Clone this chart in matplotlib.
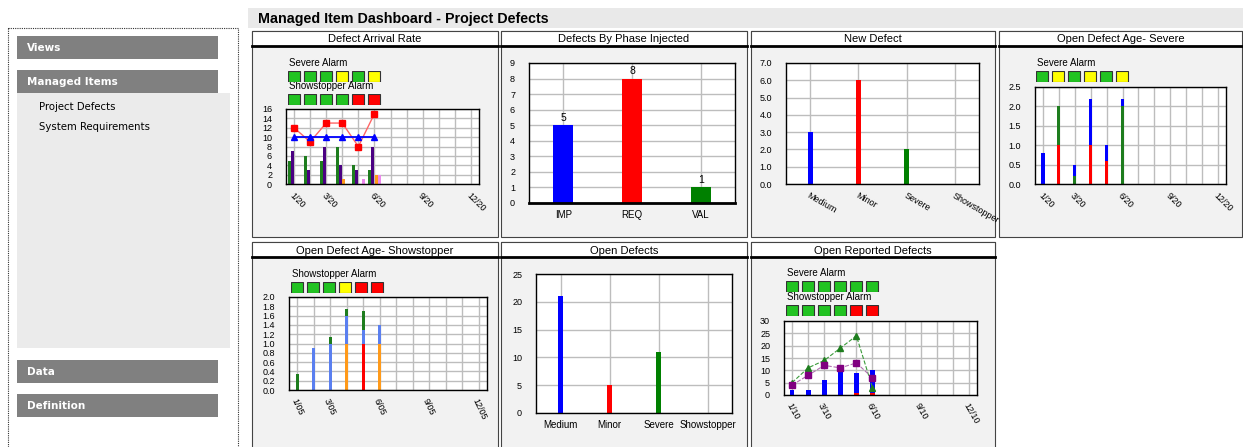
import numpy as np
import matplotlib.pyplot as plt
from matplotlib.patches import Rectangle

W, H = 1243, 447
plt.rcParams['font.family'] = ['Liberation Sans', 'DejaVu Sans']

# ---- data ----
months = np.arange(6) + 0.5
month_grid = np.arange(12) + 0.5
label_idx = [0, 2, 5, 8, 11]
dates_a = ['1/20', '3/20', '6/20', '9/20', '12/20']
dates_b = ['1/05', '3/05', '6/05', '9/05', '12/05']
dates_c = ['1/10', '3/10', '6/10', '9/10', '12/10']

# Defect Arrival Rate
arr_green = [5, 6, 5, 8, 4, 3]
arr_indigo = [7, 3, 8, 4, 3, 8]
arr_orange = [0, 0, 0, 1, 0, 2]
arr_violet = [0, 0, 0, 0, 1, 2]
arr_red_line = [12, 9, 13, 13, 8, 15]
arr_blue_line = [10, 10, 10, 10, 10, 10]
arr_sev_alarm = ['G', 'G', 'G', 'Y', 'G', 'Y']
arr_ss_alarm = ['G', 'G', 'G', 'G', 'R', 'R']

# Defects By Phase Injected
phase_cats = ['IMP', 'REQ', 'VAL']
phase_vals = [5, 8, 1]

# New Defect / Open Defects
sev_cats = ['Medium', 'Minor', 'Severe', 'Showstopper']
new_vals = [3, 6, 2, 0]
open_vals = [21, 5, 11, 0]

# Open Defect Age- Severe
sev_age_red = [0, 1, 0, 1, 0.6, 0]
sev_age_green = [0, 1, 0.2, 0, 0, 2]
sev_age_blue = [0.8, 0, 0.3, 1.2, 0.4, 0.2]
age_sev_alarm = ['G', 'Y', 'G', 'Y', 'G', 'Y']

# Open Defect Age- Showstopper
ss_age_orange = [0, 0, 0, 1, 0, 1]
ss_age_red = [0, 0, 0, 0, 1, 0]
ss_age_blue = [0, 0.9, 1.0, 0.6, 0.3, 0.4]
ss_age_green = [0.35, 0, 0.15, 0.15, 0.4, 0]
age_ss_alarm = ['G', 'G', 'G', 'Y', 'R', 'R']

# Open Reported Defects
rep_red = [0, 0, 0, 0, 1, 1]
rep_blue = [2, 2, 6, 10, 8, 9]
rep_green_line = [5, 11, 14, 19, 24, 3]
rep_purple_line = [4, 8, 12, 11, 13, 7]
rep_sev_alarm = ['G', 'G', 'G', 'G', 'G', 'G']
rep_ss_alarm = ['G', 'G', 'G', 'G', 'R', 'R']

alarm_col = {'G': '#22c322', 'Y': '#ffff00', 'R': '#ff0000'}

fig = plt.figure(figsize=(W / 100, H / 100), dpi=100)
fig.patch.set_facecolor('white')


def px_ax(x0, y0, x1, y1):
    return fig.add_axes([x0 / W, 1 - y1 / H, (x1 - x0) / W, (y1 - y0) / H])


# background layer (pixel coordinates)
bg = fig.add_axes([0, 0, 1, 1])
bg.set_xlim(0, W)
bg.set_ylim(H, 0)
bg.axis('off')

# sidebar
bg.add_patch(Rectangle((8, 28), 230, 425, facecolor='white', edgecolor='#333333', lw=0.8, ls=(0, (1, 1))))
bg.add_patch(Rectangle((17, 93), 213, 255, facecolor='#ebebeb', edgecolor='none'))
for ytop, name in [(36, 'Views'), (70, 'Managed Items'), (360, 'Data'), (394, 'Definition')]:
    bg.add_patch(Rectangle((17, ytop), 201, 23, facecolor='#808080', edgecolor='none'))
    bg.text(27, ytop + 12, name, color='white', fontsize=7.5, fontweight='bold',
            family='DejaVu Sans', va='center', ha='left')
bg.text(39, 107, 'Project Defects', fontsize=7.3, family='DejaVu Sans', va='center')
bg.text(39, 127, 'System Requirements', fontsize=7.3, family='DejaVu Sans', va='center')

# header
bg.add_patch(Rectangle((248, 8), 995, 20, facecolor='#e9e9e9', edgecolor='none'))
bg.text(258, 19, 'Managed Item Dashboard - Project Defects', fontsize=10.3,
        fontweight='bold', va='center', ha='left')

# panels
panels = [(252, 31, 498, 237, 'Defect Arrival Rate'),
          (501, 31, 747, 237, 'Defects By Phase Injected'),
          (751, 31, 995, 237, 'New Defect'),
          (999, 31, 1242, 237, 'Open Defect Age- Severe'),
          (252, 242, 498, 452, 'Open Defect Age- Showstopper'),
          (501, 242, 747, 452, 'Open Defects'),
          (751, 242, 995, 452, 'Open Reported Defects')]
for x0, y0, x1, y1, title in panels:
    bg.add_patch(Rectangle((x0, y0), x1 - x0, y1 - y0, facecolor='#f2f2f2',
                           edgecolor='#444444', lw=0.8))
    bg.add_patch(Rectangle((x0, y0), x1 - x0, 15, facecolor='white', edgecolor='#444444', lw=0.8))
    bg.plot([x0, x1], [y0 + 15, y0 + 15], color='black', lw=2)
    bg.text((x0 + x1) / 2, y0 + 8.5, title, fontsize=8, ha='center', va='center')


def alarm_row(x0, y0, label, states):
    bg.text(x0 + 1, y0 - 8, label, fontsize=7, va='center', ha='left')
    a = px_ax(x0, y0, x0 + 96, y0 + 11)
    a.set_xlim(0, 6)
    a.set_ylim(0, 1)
    a.axis('off')
    for i, s in enumerate(states):
        a.add_patch(Rectangle((i + 0.03, 0.03), 0.7, 0.94, facecolor=alarm_col[s],
                              edgecolor='#333333', lw=0.8))


def style(ax, ylim, yticks, ylabels=None):
    ax.set_facecolor('white')
    ax.set_ylim(*ylim)
    ax.set_yticks(yticks)
    if ylabels is not None:
        ax.set_yticklabels(ylabels)
    ax.tick_params(length=0, labelsize=6.5, pad=10)
    ax.tick_params(axis='x', pad=5)
    ax.grid(True, color='#bdbdbd', lw=1)
    ax.set_axisbelow(True)
    for s in ax.spines.values():
        s.set_color('black')
        s.set_linewidth(1)


def month_axis(ax, labels, rot):
    ax.set_xlim(0, 12)
    ax.set_xticks(month_grid)
    lab = [''] * 12
    for i, l in zip(label_idx, labels):
        lab[i] = l
    ax.set_xticklabels(lab, rotation=rot, ha='left', rotation_mode='anchor', fontsize=6.5)


# ---- Defect Arrival Rate ----
ax = px_ax(286, 109, 479, 184)
style(ax, (0, 16), np.arange(0, 17, 2))
w = 0.19
ax.bar(months - 0.3, arr_green, w, color='#1e7d1e')
ax.bar(months - 0.1, arr_indigo, w, color='#4b0082')
ax.bar(months + 0.1, arr_orange, w, color='#ff9a1a')
ax.bar(months + 0.3, arr_violet, w, color='#ee88ee')
ax.plot(months, arr_red_line, color='#ff6666', lw=1, marker='s', ms=5, mfc='red', mec='red')
ax.plot(months, arr_blue_line, color='blue', lw=1.3, marker='^', ms=4, mfc='blue', mec='blue')
month_axis(ax, dates_a, -45)
alarm_row(288, 71, 'Severe Alarm', arr_sev_alarm)
alarm_row(288, 94, 'Showstopper Alarm', arr_ss_alarm)

# ---- Defects By Phase Injected ----
ax = px_ax(529, 63, 735, 203)
style(ax, (0, 9), np.arange(0, 10))
xp = np.arange(len(phase_cats))
bars = ax.bar(xp, phase_vals, 0.29, color=['blue', 'red', 'green'])
for b, v in zip(bars, phase_vals):
    ax.text(b.get_x() + b.get_width() / 2, v + 0.15, str(v), ha='center', va='bottom', fontsize=7.5)
ax.set_xlim(-0.5, 2.5)
ax.set_xticks(xp)
ax.set_xticklabels(phase_cats, fontsize=7)
ax.spines['bottom'].set_linewidth(2)

# ---- New Defect ----
ax = px_ax(786, 63, 979, 184)
style(ax, (0, 7), np.arange(0, 8), ['%.1f' % v for v in range(8)])
xs = np.arange(len(sev_cats))
ax.bar(xs, new_vals, 0.1, color=['blue', 'red', 'green', 'black'])
ax.set_xlim(-0.5, 3.5)
ax.set_xticks(xs)
ax.set_xticklabels(sev_cats, rotation=-30, ha='left', rotation_mode='anchor', fontsize=6.5)

# ---- Open Defect Age- Severe ----
ax = px_ax(1035, 87, 1226, 184)
style(ax, (0, 2.5), np.arange(0, 2.6, 0.5), ['%.1f' % v for v in np.arange(0, 2.6, 0.5)])
w = 0.2
b1 = np.array(sev_age_red)
b2 = b1 + np.array(sev_age_green)
ax.bar(months, sev_age_red, w, color='red')
ax.bar(months, sev_age_green, w, bottom=b1, color='#1e7d1e')
ax.bar(months, sev_age_blue, w, bottom=b2, color='blue')
month_axis(ax, dates_a, -45)
alarm_row(1036, 71, 'Severe Alarm', age_sev_alarm)

# ---- Open Defect Age- Showstopper ----
ax = px_ax(289, 297, 487, 390)
style(ax, (0, 2.0), np.arange(0, 2.01, 0.2), ['%.1f' % v for v in np.arange(0, 2.01, 0.2)])
w = 0.17
s1 = np.array(ss_age_orange)
s2 = s1 + np.array(ss_age_red)
s3 = s2 + np.array(ss_age_blue)
ax.bar(months, ss_age_orange, w, color='#ff9a1a')
ax.bar(months, ss_age_red, w, bottom=s1, color='red')
ax.bar(months, ss_age_blue, w, bottom=s2, color='#5a7ff0')
ax.bar(months, ss_age_green, w, bottom=s3, color='#1e7d1e')
month_axis(ax, dates_b, -65)
alarm_row(291, 282, 'Showstopper Alarm', age_ss_alarm)

# ---- Open Defects ----
ax = px_ax(536, 274, 732, 413)
style(ax, (0, 25), np.arange(0, 26, 5))
ax.bar(xs, open_vals, 0.1, color=['blue', 'red', 'green', 'black'])
ax.set_xlim(-0.5, 3.5)
ax.set_xticks(xs)
ax.set_xticklabels(sev_cats, fontsize=7)

# ---- Open Reported Defects ----
ax = px_ax(784, 321, 977, 395)
style(ax, (0, 30), np.arange(0, 31, 5))
w = 0.3
ax.bar(months, rep_red, w, color='red')
ax.bar(months, rep_blue, w, bottom=rep_red, color='blue')
ax.plot(months, rep_green_line, color='#3a9a3a', lw=0.8, ls='--', marker='^', ms=4,
        mfc='#1e7d1e', mec='#1e7d1e')
ax.plot(months, rep_purple_line, color='#b070b0', lw=0.8, ls='--', marker='s', ms=4.5,
        mfc='#800080', mec='#800080')
month_axis(ax, dates_c, -60)
alarm_row(786, 281, 'Severe Alarm', rep_sev_alarm)
alarm_row(786, 305, 'Showstopper Alarm', rep_ss_alarm)

fig.savefig('out.png', dpi=100)
